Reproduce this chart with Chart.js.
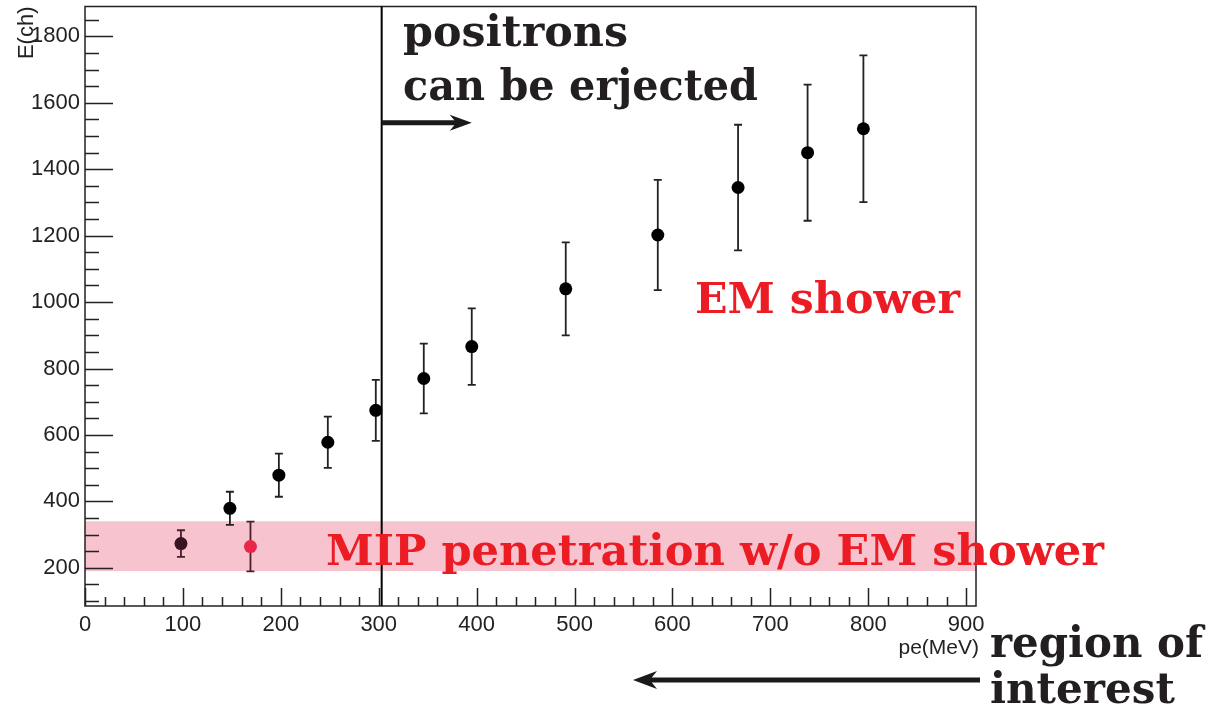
<!DOCTYPE html>
<html>
<head>
<meta charset="utf-8">
<title>E(ch) vs pe(MeV)</title>
<script src="https://cdn.jsdelivr.net/npm/chart.js@4/dist/chart.umd.min.js"></script>
<style>
    html, body { margin: 0; padding: 0; background: #fff; }
    #wrap { position: relative; width: 1220px; height: 723px; }
</style>
</head>
<body>
<div id="wrap"><canvas id="energyChart" width="1220" height="723"></canvas></div>
<script>
// Energy deposit vs particle momentum
const peValues      = [98, 148, 169, 198, 248, 297, 346, 395, 491, 585, 667, 738, 795];
const energyValues  = [273, 379, 264, 479, 578, 674, 770, 866, 1040, 1202, 1345, 1450, 1522];
const energyErrors  = [40, 50, 75, 65, 77, 92, 105, 115, 140, 166, 189, 205, 221];
const pointColors   = ['#3a1422', '#000', '#e8284a', '#000', '#000', '#000', '#000', '#000', '#000', '#000', '#000', '#000', '#000'];
const errorColors   = ['#4a1e2c', '#222', '#4a1e2c', '#222', '#222', '#222', '#222', '#222', '#222', '#222', '#222', '#222', '#222'];

const xTickValues = [0, 100, 200, 300, 400, 500, 600, 700, 800, 900];
const yTickValues = [200, 400, 600, 800, 1000, 1200, 1400, 1600, 1800];
const xRange = [0, 910];
const yRange = [85, 1890];
const xMinorStep = 20;
const yMinorStep = 50;

// selection cut and MIP band
const cutPe = 303;
const mipBand = [190, 340];
const arrowE = 1540;
const arrowPeEnd = 395;

const RED = '#ec1c24';
const AXIS = '#222';
const SERIF = 'bold 42px "DejaVu Serif"';

// text drawn condensed to a given width
function fitText(ctx, text, x, y, width) {
    const w = ctx.measureText(text).width;
    ctx.save();
    ctx.translate(x, y);
    ctx.scale(width / w, 1);
    ctx.fillText(text, 0, 0);
    ctx.restore();
}

function arrowHead(ctx, tipX, tipY, dir, len, half) {
    ctx.beginPath();
    ctx.moveTo(tipX, tipY);
    ctx.lineTo(tipX - dir * len, tipY - half);
    ctx.lineTo(tipX - dir * len * 0.7, tipY);
    ctx.lineTo(tipX - dir * len, tipY + half);
    ctx.closePath();
    ctx.fill();
}

const bandPlugin = {
    id: 'mipBand',
    beforeDatasetsDraw(chart) {
        const { ctx, chartArea, scales } = chart;
        const top = scales.y.getPixelForValue(mipBand[1]);
        const bottom = scales.y.getPixelForValue(mipBand[0]);
        ctx.save();
        ctx.fillStyle = '#f6c3cf';
        ctx.fillRect(chartArea.left, top, chartArea.right - chartArea.left, bottom - top);

        // error bars
        ctx.lineWidth = 1.8;
        peValues.forEach((pe, i) => {
            const x = scales.x.getPixelForValue(pe);
            const y1 = scales.y.getPixelForValue(energyValues[i] + energyErrors[i]);
            const y0 = scales.y.getPixelForValue(energyValues[i] - energyErrors[i]);
            ctx.strokeStyle = errorColors[i];
            ctx.beginPath();
            ctx.moveTo(x, y1); ctx.lineTo(x, y0);
            ctx.moveTo(x - 4, y1); ctx.lineTo(x + 4, y1);
            ctx.moveTo(x - 4, y0); ctx.lineTo(x + 4, y0);
            ctx.stroke();
        });
        ctx.restore();
    }
};

const framePlugin = {
    id: 'rootFrame',
    afterDatasetsDraw(chart) {
        const { ctx, chartArea: a, scales } = chart;
        ctx.save();
        ctx.strokeStyle = AXIS;
        ctx.lineWidth = 1.5;
        ctx.strokeRect(a.left, a.top, a.right - a.left, a.bottom - a.top);

        // inward ticks
        ctx.beginPath();
        for (let v = 0; v <= xTickValues[xTickValues.length - 1]; v += xMinorStep) {
            const x = Math.round(scales.x.getPixelForValue(v)) + 0.5;
            const len = v % 100 === 0 ? 18 : 9;
            ctx.moveTo(x, a.bottom);
            ctx.lineTo(x, a.bottom - len);
        }
        for (let v = 100; v < yRange[1]; v += yMinorStep) {
            const y = Math.round(scales.y.getPixelForValue(v)) + 0.5;
            const len = v % 200 === 0 ? 28 : 14;
            ctx.moveTo(a.left, y);
            ctx.lineTo(a.left + len, y);
        }
        ctx.stroke();

        // axis titles
        ctx.fillStyle = AXIS;
        ctx.font = '21px "Liberation Sans"';
        ctx.textAlign = 'right';
        ctx.textBaseline = 'alphabetic';
        ctx.fillText('pe(MeV)', a.right + 3, a.bottom + 48);
        ctx.save();
        ctx.translate(a.left - 52, a.top);
        ctx.rotate(-Math.PI / 2);
        ctx.font = '22px "Liberation Sans"';
        ctx.fillText('E(ch)', 0, 0);
        ctx.restore();

        // cut line
        const cx = scales.x.getPixelForValue(cutPe);
        ctx.strokeStyle = '#000';
        ctx.lineWidth = 2;
        ctx.beginPath();
        ctx.moveTo(cx, a.top);
        ctx.lineTo(cx, a.bottom);
        ctx.stroke();

        // arrow: accepted side
        const ay = scales.y.getPixelForValue(arrowE);
        const ax = scales.x.getPixelForValue(arrowPeEnd);
        ctx.fillStyle = '#1a1a1a';
        ctx.fillRect(cx, ay - 2.5, ax - cx - 12, 5);
        arrowHead(ctx, ax, ay, 1, 22, 8);

        // arrow: region of interest
        ctx.fillRect(645, 677.5, 335, 5);
        arrowHead(ctx, 633, 680, -1, 24, 9);

        // labels
        ctx.textAlign = 'left';
        ctx.font = SERIF;
        ctx.fillStyle = '#231f20';
        fitText(ctx, 'positrons', 403, 46, 225);
        fitText(ctx, 'can be erjected', 403, 100, 355);
        fitText(ctx, 'region of', 990, 657, 213);
        fitText(ctx, 'interest', 990, 703, 185);
        ctx.fillStyle = RED;
        fitText(ctx, 'EM shower', 695, 313, 265);
        fitText(ctx, 'MIP penetration w/o EM shower', 326, 565, 778);
        ctx.restore();
    }
};

const ctx = document.getElementById('energyChart').getContext('2d');
new Chart(ctx, {
    type: 'scatter',
    data: {
        datasets: [{
            data: peValues.map((pe, i) => ({ x: pe, y: energyValues[i] })),
            pointRadius: 6.5,
            pointBackgroundColor: pointColors,
            pointBorderWidth: 0,
            showLine: false
        }]
    },
    options: {
        responsive: false,
        animation: false,
        events: [],
        layout: { padding: { top: 3, right: 244, left: 0, bottom: 0 } },
        plugins: {
            legend: { display: false },
            tooltip: { enabled: false }
        },
        scales: {
            x: {
                type: 'linear',
                min: xRange[0],
                max: xRange[1],
                afterBuildTicks: s => { s.ticks = xTickValues.map(v => ({ value: v })); },
                afterFit: s => {
                    s.height = 117;
                    s.paddingLeft = 0;
                    s.paddingRight = 0;
                },
                grid: { display: false, drawTicks: false, tickLength: 0 },
                border: { display: false },
                ticks: {
                    color: AXIS,
                    padding: 6,
                    maxRotation: 0,
                    autoSkip: false,
                    callback: v => String(v),
                    font: { family: 'Liberation Sans', size: 22 }
                }
            },
            y: {
                type: 'linear',
                min: yRange[0],
                max: yRange[1],
                afterBuildTicks: s => { s.ticks = yTickValues.map(v => ({ value: v })); },
                afterFit: s => {
                    s.width = 85;
                    s.paddingTop = 0;
                    s.paddingBottom = 0;
                },
                grid: { display: false, drawTicks: false, tickLength: 0 },
                border: { display: false },
                ticks: {
                    color: AXIS,
                    padding: 5,
                    autoSkip: false,
                    callback: v => String(v),
                    font: { family: 'Liberation Sans', size: 22 }
                }
            }
        }
    },
    plugins: [bandPlugin, framePlugin]
});
</script>
</body>
</html>
